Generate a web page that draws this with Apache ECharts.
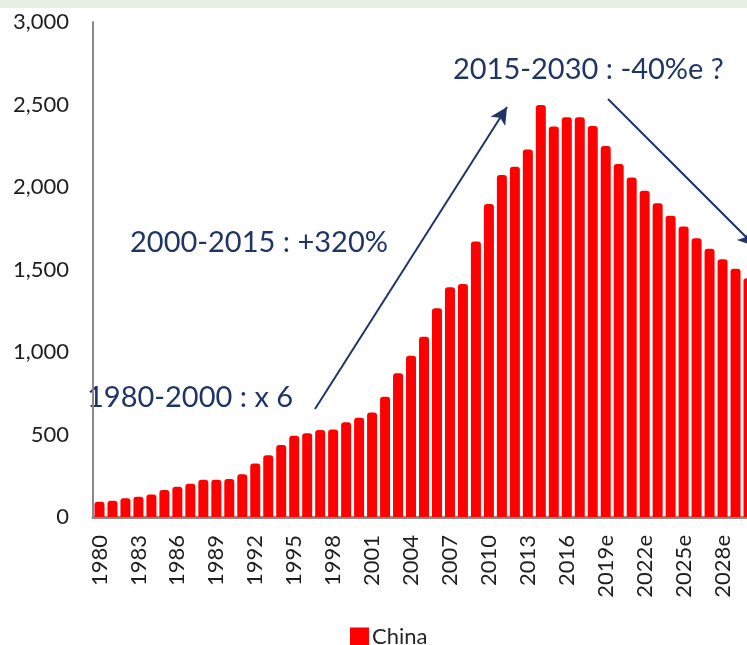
<!DOCTYPE html>
<html>
<head>
<meta charset="utf-8">
<script src="https://cdn.jsdelivr.net/npm/echarts@6/dist/echarts.min.js"></script>
<style>
html,body{margin:0;padding:0;background:#fff;}
#chart{width:747px;height:645px;}
</style>
</head>
<body>
<div id="chart"></div>
<script>
// ---- data ----
const categories = [
  '1980','1981','1982','1983','1984','1985','1986','1987','1988','1989',
  '1990','1991','1992','1993','1994','1995','1996','1997','1998','1999',
  '2000','2001','2002','2003','2004','2005','2006','2007','2008','2009',
  '2010','2011','2012','2013','2014','2015','2016','2017','2018',
  '2019e','2020e','2021e','2022e','2023e','2024e','2025e','2026e','2027e','2028e','2029e','2030e'
];
const chinaValues = [
  93, 99, 113, 123, 137, 164, 184, 202, 226, 226,
  230, 259, 325, 374, 436, 492, 507, 527, 531, 574,
  602, 634, 729, 871, 978, 1093, 1265, 1392, 1412, 1669,
  1897, 2073, 2123, 2228, 2497, 2366, 2422, 2422, 2370,
  2248, 2139, 2057, 1978, 1901, 1826, 1760, 1689, 1626, 1562, 1505, 1447
];
const seriesName = 'China';
const yTicks = {min: 0, max: 3000, interval: 500};
const annotations = [
  '2015-2030 : -40%e ?',
  '2000-2015 : +320%',
  '1980-2000 : x 6'
];

const FONT = 'Lato, "Noto Sans", sans-serif';
const NAVY = '#1f3566';

const chart = echarts.init(document.getElementById('chart'), null, {renderer: 'canvas'});
chart.setOption({
  backgroundColor: '#ffffff',
  animation: false,
  grid: {left: 93, top: 22, width: 662, bottom: 128, outerBoundsMode: 'none'},
  legend: {
    data: [seriesName],
    left: 345, top: 621,
    icon: 'rect', itemWidth: 19, itemHeight: 19,
    textStyle: {fontFamily: FONT, fontSize: 22, color: '#262626', padding: [0,0,0,-2]}
  },
  xAxis: {
    type: 'category',
    data: categories,
    boundaryGap: true,
    axisLine: {lineStyle: {color: '#8a8a8a', width: 3}},
    axisTick: {show: false},
    axisLabel: {interval: 2, rotate: 90, margin: 18, fontFamily: FONT, fontSize: 22, color: '#1e1e1e'}
  },
  yAxis: {
    type: 'value',
    min: yTicks.min, max: yTicks.max, interval: yTicks.interval,
    splitLine: {show: false},
    axisTick: {show: false},
    axisLine: {show: true, lineStyle: {color: '#8a8a8a', width: 2}},
    axisLabel: {
      margin: 24, fontFamily: FONT, fontSize: 22, color: '#1e1e1e', padding: [0,0,6,0],
      formatter: v => v.toLocaleString('en-US')
    }
  },
  series: [{
    name: seriesName,
    type: 'bar',
    data: chinaValues,
    barWidth: 10,
    itemStyle: {color: '#ff0000', borderRadius: [3,3,0,0]},
    markLine: {
      silent: true,
      animation: false,
      label: {show: false},
      lineStyle: {color: NAVY, width: 2, type: 'solid'},
      symbolSize: [13, 17],
      data: [
        [{x: 315, y: 409, symbol: 'none'}, {x: 507, y: 107, symbol: 'arrow'}],
        [{x: 608, y: 99, symbol: 'none'}, {x: 755, y: 246, symbol: 'arrow'}]
      ]
    }
  }],
  graphic: [
    {type: 'rect', shape: {x: 0, y: 0, width: 747, height: 8}, style: {fill: '#e8efe3'}, z: -10, silent: true},
    {type: 'text', x: 453, y: 70, style: {text: annotations[0], font: '29px ' + FONT, fill: NAVY, textVerticalAlign: 'middle'}},
    {type: 'text', x: 130, y: 243, style: {text: annotations[1], font: '29px ' + FONT, fill: NAVY, textVerticalAlign: 'middle'}},
    {type: 'text', x: 87, y: 398, style: {text: annotations[2], font: '29px ' + FONT, fill: NAVY, textVerticalAlign: 'middle'}}
  ]
});
</script>
</body>
</html>
